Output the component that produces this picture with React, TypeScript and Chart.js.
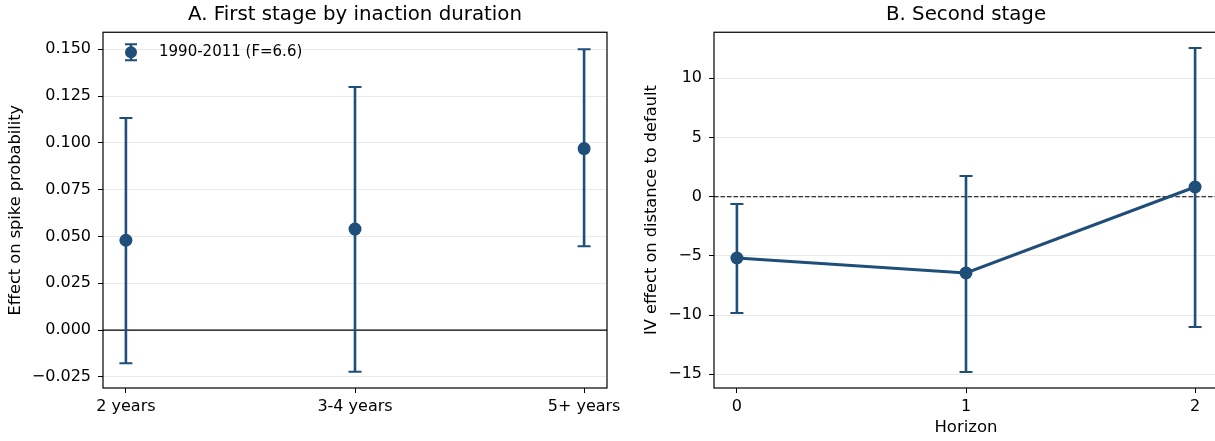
import { useEffect, useRef } from 'react';
import { Chart, registerables } from 'chart.js';

Chart.register(...registerables);

// ---- Data ----
const durationLabels = ['2 years', '3-4 years', '5+ years'];
const firstStageEst = [0.048, 0.054, 0.097];
const firstStageLow = [-0.0177, -0.0222, 0.0448];
const firstStageHigh = [0.1133, 0.1298, 0.15];
const firstStageTicks = [-0.025, 0, 0.025, 0.05, 0.075, 0.1, 0.125, 0.15];

const horizonLabels = ['0', '1', '2'];
const secondStageEst = [-5.18, -6.44, 0.82];
const secondStageLow = [-9.82, -14.8, -11.0];
const secondStageHigh = [-0.62, 1.75, 12.56];
const secondStageTicks = [-15, -10, -5, 0, 5, 10];

const legendLabel = '1990-2011 (F=6.6)';
const titleA = 'A. First stage by inaction duration';
const titleB = 'B. Second stage';
const yLabelA = 'Effect on spike probability';
const yLabelB = 'IV effect on distance to default';
const xLabelB = 'Horizon';

// ---- Styles ----
const BLUE = '#1f4e79';
const FONT = 'DejaVu Sans';
const GRID = 'rgba(0,0,0,0.085)';
const TICK_SIZE = 16;

const fmt = (v: number, d: number) => {
  const r = Number(v.toFixed(d));
  return (r < 0 ? '\u2212' : '') + Math.abs(r).toFixed(d);
};

const errorBarsPlugin = {
  id: 'errorBars',
  beforeDatasetsDraw(chart: any, _args: any, opts: any) {
    const { ctx, scales } = chart;
    const xs = scales.x;
    const ys = scales.y;
    ctx.save();
    ctx.strokeStyle = opts.color;
    for (let i = 0; i < opts.low.length; i++) {
      const x = xs.getPixelForValue(i);
      const y1 = ys.getPixelForValue(opts.low[i]);
      const y2 = ys.getPixelForValue(opts.high[i]);
      ctx.lineWidth = opts.width;
      ctx.beginPath();
      ctx.moveTo(x, y1);
      ctx.lineTo(x, y2);
      ctx.stroke();
      ctx.lineWidth = opts.capWidth;
      ctx.beginPath();
      ctx.moveTo(x - opts.cap, y1);
      ctx.lineTo(x + opts.cap, y1);
      ctx.moveTo(x - opts.cap, y2);
      ctx.lineTo(x + opts.cap, y2);
      ctx.stroke();
    }
    ctx.restore();
  },
};

const refLinePlugin = {
  id: 'refLine',
  beforeDatasetsDraw(chart: any, _args: any, opts: any) {
    const { ctx, chartArea, scales } = chart;
    const y = scales.y.getPixelForValue(opts.value);
    ctx.save();
    ctx.strokeStyle = opts.color;
    ctx.lineWidth = opts.width;
    ctx.setLineDash(opts.dash || []);
    ctx.beginPath();
    ctx.moveTo(chartArea.left, y);
    ctx.lineTo(chartArea.right, y);
    ctx.stroke();
    ctx.restore();
  },
};

const framePlugin = {
  id: 'frame',
  afterDraw(chart: any) {
    const { ctx, chartArea } = chart;
    ctx.save();
    ctx.strokeStyle = '#000';
    ctx.lineWidth = 1.2;
    ctx.strokeRect(chartArea.left, chartArea.top, chartArea.right - chartArea.left, chartArea.bottom - chartArea.top);
    ctx.restore();
  },
};

const legendPlugin = {
  id: 'innerLegend',
  afterDraw(chart: any, _args: any, opts: any) {
    if (!opts || !opts.text) return;
    const { ctx, chartArea } = chart;
    const mx = chartArea.left + 28;
    const my = chartArea.top + 20;
    ctx.save();
    ctx.strokeStyle = BLUE;
    ctx.fillStyle = BLUE;
    ctx.lineWidth = 2.5;
    ctx.beginPath();
    ctx.moveTo(mx, my - 8);
    ctx.lineTo(mx, my + 8);
    ctx.stroke();
    ctx.lineWidth = 2;
    ctx.beginPath();
    ctx.moveTo(mx - 6, my - 8);
    ctx.lineTo(mx + 6, my - 8);
    ctx.moveTo(mx - 6, my + 8);
    ctx.lineTo(mx + 6, my + 8);
    ctx.stroke();
    ctx.beginPath();
    ctx.arc(mx, my, 6, 0, Math.PI * 2);
    ctx.fill();
    ctx.fillStyle = '#000';
    ctx.font = `15px "${FONT}"`;
    ctx.textBaseline = 'middle';
    ctx.textAlign = 'left';
    ctx.fillText(opts.text, chartArea.left + 56, my);
    ctx.restore();
  },
};

function makeConfig(p: {
  labels: string[];
  est: number[];
  low: number[];
  high: number[];
  ticks: number[];
  yMin: number;
  yMax: number;
  decimals: number;
  title: string;
  yLabel: string;
  yLabelPad: number;
  xLabel?: string;
  yWidth: number;
  padRight: number;
  showLine: boolean;
  refDash: number[];
  legend?: string;
}): any {
  return {
    type: 'scatter',
    data: {
      datasets: [
        {
          label: p.legend || '',
          data: p.est.map((v, i) => ({ x: i, y: v })),
          showLine: p.showLine,
          borderColor: BLUE,
          backgroundColor: BLUE,
          borderWidth: 3,
          pointRadius: 6.5,
          pointHoverRadius: 6.5,
          pointBackgroundColor: BLUE,
          pointBorderWidth: 0,
        },
      ],
    },
    options: {
      responsive: false,
      animation: false,
      devicePixelRatio: 1,
      layout: { padding: { left: 0, right: p.padRight, top: 0, bottom: 0 } },
      plugins: {
        legend: { display: false },
        tooltip: { enabled: false },
        title: {
          display: true,
          fullSize: false,
          text: p.title,
          color: '#000',
          font: { family: FONT, size: 19.8, weight: 'normal' },
          padding: { top: 3, bottom: 5.5 },
        },
        errorBars: { low: p.low, high: p.high, color: BLUE, width: 2.6, capWidth: 2, cap: 6.5 },
        refLine: { value: 0, color: '#000', width: p.refDash.length ? 1.1 : 1.2, dash: p.refDash },
        innerLegend: { text: p.legend },
      },
      scales: {
        x: {
          type: 'linear',
          min: -0.1,
          max: 2.1,
          afterFit(scale: any) {
            scale.height = 53;
            scale.paddingLeft = 0;
            scale.paddingRight = 0;
          },
          afterBuildTicks(scale: any) {
            scale.ticks = p.labels.map((_l, i) => ({ value: i }));
          },
          grid: { display: true, drawOnChartArea: false, drawTicks: true, tickLength: 5, tickColor: '#000', tickWidth: 1 },
          border: { display: false },
          ticks: {
            color: '#000',
            font: { family: FONT, size: TICK_SIZE },
            padding: 4,
            maxRotation: 0,
            autoSkip: false,
            callback: (v: any) => p.labels[Math.round(v)] ?? '',
          },
          title: p.xLabel
            ? { display: true, text: p.xLabel, color: '#000', font: { family: FONT, size: 16.5 }, padding: { top: 0, bottom: 3 } }
            : { display: false },
        },
        y: {
          type: 'linear',
          min: p.yMin,
          max: p.yMax,
          afterFit(scale: any) {
            scale.width = p.yWidth;
            scale.paddingTop = 0;
            scale.paddingBottom = 0;
          },
          afterBuildTicks(scale: any) {
            scale.ticks = p.ticks.map((v) => ({ value: v }));
          },
          grid: { display: true, drawOnChartArea: true, color: GRID, lineWidth: 1, drawTicks: true, tickLength: 5, tickColor: '#000', tickWidth: 1 },
          border: { display: false },
          ticks: {
            color: '#000',
            font: { family: FONT, size: TICK_SIZE },
            padding: 7,
            autoSkip: false,
            callback: (v: any) => fmt(Number(v), p.decimals),
          },
          title: { display: true, text: p.yLabel, color: '#000', font: { family: FONT, size: 16.2 }, padding: { top: p.yLabelPad, bottom: 0 } },
        },
      },
    },
    plugins: [refLinePlugin, errorBarsPlugin, framePlugin, legendPlugin],
  };
}

export default function App() {
  const leftRef = useRef<HTMLCanvasElement | null>(null);
  const rightRef = useRef<HTMLCanvasElement | null>(null);

  useEffect(() => {
    if (!leftRef.current || !rightRef.current) return;
    const left = new Chart(
      leftRef.current,
      makeConfig({
        labels: durationLabels,
        est: firstStageEst,
        low: firstStageLow,
        high: firstStageHigh,
        ticks: firstStageTicks,
        yMin: -0.0309,
        yMax: 0.1591,
        decimals: 3,
        title: titleA,
        yLabel: yLabelA,
        yLabelPad: 6,
        yWidth: 103,
        padRight: 53,
        showLine: false,
        refDash: [],
        legend: legendLabel,
      })
    );
    const right = new Chart(
      rightRef.current,
      makeConfig({
        labels: horizonLabels,
        est: secondStageEst,
        low: secondStageLow,
        high: secondStageHigh,
        ticks: secondStageTicks,
        yMin: -16.16,
        yMax: 13.89,
        decimals: 0,
        title: titleB,
        yLabel: yLabelB,
        yLabelPad: 22,
        xLabel: xLabelB,
        yWidth: 94,
        padRight: 12,
        showLine: true,
        refDash: [4.5, 2],
      })
    );
    return () => {
      left.destroy();
      right.destroy();
    };
  }, []);

  return (
    <div
      style={{
        position: 'fixed',
        left: 0,
        top: 0,
        width: 1215,
        height: 441,
        overflow: 'hidden',
        background: '#fff',
      }}
    >
      <canvas ref={leftRef} width={660} height={441} style={{ position: 'absolute', left: 0, top: 0 }} />
      <canvas ref={rightRef} width={610} height={441} style={{ position: 'absolute', left: 620, top: 0 }} />
    </div>
  );
}
